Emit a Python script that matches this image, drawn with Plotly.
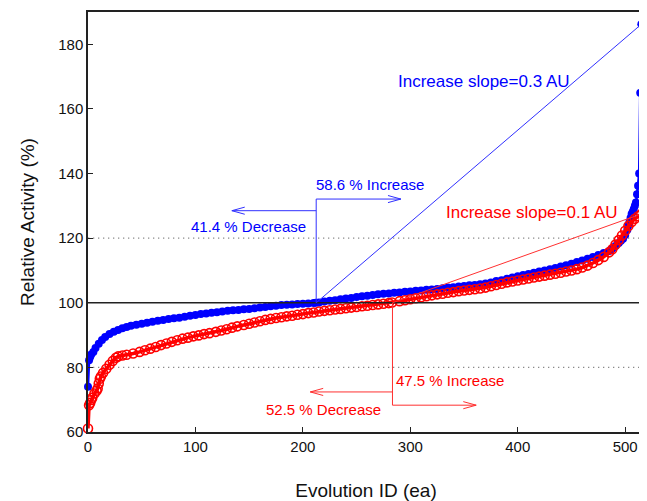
import plotly.graph_objects as go

# ---------------- data ----------------
blue_id = [0, 1, 2, 3, 5, 7, 10, 13, 16, 20, 24, 28, 32, 36, 40,
           45, 50, 55, 60, 65, 70, 75, 80, 85, 90, 95, 100, 105, 110, 115,
           120, 125, 130, 135, 140, 145, 150, 155, 160, 165, 170, 175, 180,
           185, 190, 195, 200, 205, 210, 212, 215, 220, 225, 230, 235, 240,
           245, 250, 255, 260, 265, 270, 275, 280, 285, 290, 295, 300, 305,
           310, 315, 320, 325, 330, 335, 340, 345, 350, 355, 360, 365, 370,
           375, 380, 385, 390, 395, 400, 405, 410, 415, 420, 425, 430, 435,
           440, 445, 450, 455, 460, 465, 470, 475, 480, 485, 488, 491, 494,
           496, 498, 500, 502, 503, 504, 505, 506, 507, 508, 509, 510, 511,
           512, 513, 514, 515]
blue_val = [74.0, 82.2, 83.2, 84.0, 84.8, 86.0, 87.3, 88.5, 89.4, 90.3, 91.0, 91.6, 92.1, 92.5, 92.9,
            93.2, 93.5, 93.8, 94.1, 94.4, 94.7, 95.0, 95.2, 95.4, 95.7, 96.0, 96.2, 96.5, 96.7, 96.9,
            97.1, 97.3, 97.5, 97.7, 97.8, 98.0, 98.1, 98.3, 98.5, 98.7, 98.9, 99.1, 99.3,
            99.4, 99.5, 99.6, 99.7, 99.8, 99.9, 100.0, 100.1, 100.4, 100.6, 100.8, 101.1, 101.3,
            101.5, 101.8, 102.0, 102.2, 102.4, 102.6, 102.8, 102.9, 103.1, 103.2, 103.4, 103.5, 103.7,
            103.8, 104.0, 104.1, 104.3, 104.5, 104.7, 104.8, 105.0, 105.2, 105.4, 105.5, 105.7, 106.0,
            106.3, 106.7, 107.0, 107.4, 107.8, 108.2, 108.6, 108.9, 109.3, 109.7, 110.0, 110.4, 110.8,
            111.2, 111.6, 112.1, 112.6, 113.1, 113.6, 114.2, 114.8, 115.4, 116.0, 116.7, 117.6, 118.5,
            119.2, 119.8, 121.0, 122.6, 124.0, 125.0, 126.2, 127.5, 128.2, 129.0, 130.0, 131.0, 133.6,
            136.2, 140.0, 165.0, 186.2]

red_id = [0, 1, 2, 3, 4, 6, 8, 9, 10, 11, 12, 14, 17, 20, 23, 26, 28, 32, 36,
          42, 48, 53, 58, 63, 68, 73, 78, 83, 88, 93, 98, 103, 108, 113, 119,
          124, 129, 134, 139, 145, 150, 155, 160, 165, 170, 175, 180, 185, 190,
          195, 200, 205, 210, 215, 220, 225, 230, 235, 240, 245, 250, 255, 260,
          265, 270, 275, 280, 283, 290, 295, 300, 305, 310, 315, 320, 325, 330,
          335, 340, 345, 350, 355, 360, 365, 370, 375, 380, 385, 390, 395, 400,
          405, 410, 415, 420, 425, 430, 435, 440, 445, 450, 455, 460, 465, 470,
          475, 480, 485, 488, 491, 494, 497, 500, 503, 506, 509, 512, 515]
red_val = [61.1, 68.3, 69.0, 69.9, 70.6, 71.9, 72.8, 73.5, 75.0, 76.5, 77.2, 78.3, 79.6, 80.8, 82.0, 83.0, 83.4, 83.7, 83.9,
           84.3, 84.8, 85.3, 85.8, 86.3, 86.9, 87.4, 87.9, 88.4, 88.9, 89.2, 89.6, 89.9, 90.3, 90.6, 91.0,
           91.4, 91.8, 92.3, 92.7, 93.1, 93.5, 93.9, 94.3, 94.7, 95.0, 95.3, 95.5, 95.8, 96.0,
           96.3, 96.5, 96.8, 97.0, 97.3, 97.5, 97.7, 97.9, 98.1, 98.3, 98.5, 98.7, 98.9, 99.1,
           99.3, 99.5, 99.7, 99.9, 100.1, 100.5, 100.8, 101.1, 101.4, 101.7, 102.0, 102.3, 102.6, 102.8,
           103.1, 103.3, 103.6, 103.8, 104.0, 104.2, 104.4, 104.7, 105.1, 105.5, 105.9, 106.3, 106.6, 106.9,
           107.2, 107.5, 107.8, 108.1, 108.4, 108.7, 109.0, 109.3, 109.7, 110.0, 110.4, 110.9, 111.5, 112.3,
           113.2, 114.2, 115.6, 116.6, 118.0, 119.4, 120.8, 122.3, 123.8, 125.0, 126.0, 126.8, 127.5]

assert len(blue_id) == len(blue_val)
assert len(red_id) == len(red_val)

x_ticks = [0, 100, 200, 300, 400, 500]
y_ticks = [60, 80, 100, 120, 140, 160, 180]

# annotation geometry (data units)
blue_cross = 212.4          # where the blue curve crosses 100 %
red_cross = 283.4           # where the red curve crosses 100 %
blue_inc_y, blue_inc_x = 132.1, 291.2
blue_dec_y, blue_dec_x = 128.5, 133.9
red_dec_y, red_dec_x = 72.4, 206.9
red_inc_y, red_inc_x = 68.3, 361.3

BLUE = "#0000ff"
RED = "#ff0000"
BLUE_L = "#3030ff"
RED_L = "#ff3030"
FONT = "Liberation Sans, Arial, sans-serif"

fig = go.Figure()

fig.add_trace(go.Scatter(
    x=blue_id, y=blue_val, mode="lines+markers",
    line=dict(color=BLUE, width=2.5),
    marker=dict(color=BLUE, size=8, symbol="circle"),
    cliponaxis=False, showlegend=False))

fig.add_trace(go.Scatter(
    x=red_id, y=red_val, mode="lines+markers",
    line=dict(color=RED, width=3.5),
    marker=dict(color=RED, size=9, symbol="circle-open", line=dict(width=1.6, color=RED)),
    cliponaxis=False, showlegend=False))

shapes = []
# reference lines
shapes.append(dict(type="line", xref="paper", x0=0, x1=1, yref="y", y0=100, y1=100,
                   line=dict(color="#222222", width=1.6), layer="above"))
for yv in (80, 120):
    shapes.append(dict(type="line", xref="paper", x0=0, x1=1, yref="y", y0=yv, y1=yv,
                       line=dict(color="#8a8a8a", width=1.3, dash="1.3px,3.7px"), layer="below"))


def seg(x0, y0, x1, y1, color):
    shapes.append(dict(type="line", xref="x", yref="y", x0=x0, y0=y0, x1=x1, y1=y1,
                       line=dict(color=color, width=1), layer="above"))


def chevron(xt, yt, direction, color, dx=12.0, dy=1.1):
    # open ">" arrowhead at (xt, yt); direction +1 = points right, -1 = points left
    seg(xt, yt, xt - direction * dx, yt + dy, color)
    seg(xt, yt, xt - direction * dx, yt - dy, color)


# blue bracket
seg(blue_cross, 100, blue_cross, blue_inc_y, BLUE_L)
seg(blue_cross, blue_inc_y, blue_inc_x, blue_inc_y, BLUE_L)
chevron(blue_inc_x, blue_inc_y, +1, BLUE_L)
seg(blue_cross, blue_dec_y, blue_dec_x, blue_dec_y, BLUE_L)
chevron(blue_dec_x, blue_dec_y, -1, BLUE_L)
seg(blue_cross, 100, blue_id[-1], blue_val[-1], BLUE_L)

# red bracket
seg(red_cross, 100, red_cross, red_inc_y, RED_L)
seg(red_cross, red_dec_y, red_dec_x, red_dec_y, RED_L)
chevron(red_dec_x, red_dec_y, -1, RED_L)
seg(red_cross, red_inc_y, red_inc_x, red_inc_y, RED_L)
chevron(red_inc_x, red_inc_y, +1, RED_L)
seg(red_cross, 100, red_id[-1], red_val[-1], RED_L)

annots = [
    dict(text="Increase slope=0.3 AU", x=369.0, y=168.6, color=BLUE, size=17),
    dict(text="58.6 % Increase", x=262.3, y=136.7, color=BLUE, size=15),
    dict(text="41.4 % Decrease", x=149.7, y=123.5, color=BLUE, size=15),
    dict(text="Increase slope=0.1 AU", x=413.6, y=127.8, color=RED, size=17),
    dict(text="47.5 % Increase", x=336.6, y=75.9, color=RED, size=15),
    dict(text="52.5 % Decrease", x=219.5, y=67.1, color=RED, size=15),
]
annotations = [dict(text=a["text"], x=a["x"], y=a["y"], xref="x", yref="y",
                    showarrow=False, xanchor="center", yanchor="middle",
                    font=dict(family=FONT, size=a["size"], color=a["color"]))
               for a in annots]

# the page body adds an 8px margin, so the figure is 8px smaller than the window
fig.update_layout(
    width=639, height=493,
    margin=dict(l=80, r=1, t=4, b=67),
    paper_bgcolor="white", plot_bgcolor="white",
    font=dict(family=FONT, size=15, color="#111111"),
    showlegend=False,
    shapes=shapes,
    annotations=annotations,
    xaxis=dict(range=[0, 517.5], tickvals=x_ticks, ticks="inside", ticklen=5,
               tickcolor="#222222", tickwidth=1.2, showline=True, mirror=True,
               linecolor="#222222", linewidth=1.5, showgrid=False, zeroline=False,
               tickfont=dict(family=FONT, size=15, color="#111111"),
               title=dict(text="Evolution ID (ea)", standoff=32,
                          font=dict(family=FONT, size=19, color="#111111"))),
    yaxis=dict(range=[60, 190], tickvals=y_ticks, ticks="inside", ticklen=5,
               tickcolor="#222222", tickwidth=1.2, showline=True, mirror=True,
               linecolor="#222222", linewidth=1.5, showgrid=False, zeroline=False,
               tickfont=dict(family=FONT, size=15, color="#111111"),
               title=dict(text="Relative Activity (%)", standoff=19,
                          font=dict(family=FONT, size=19, color="#111111"))),
)

fig.write_html("out.html")
